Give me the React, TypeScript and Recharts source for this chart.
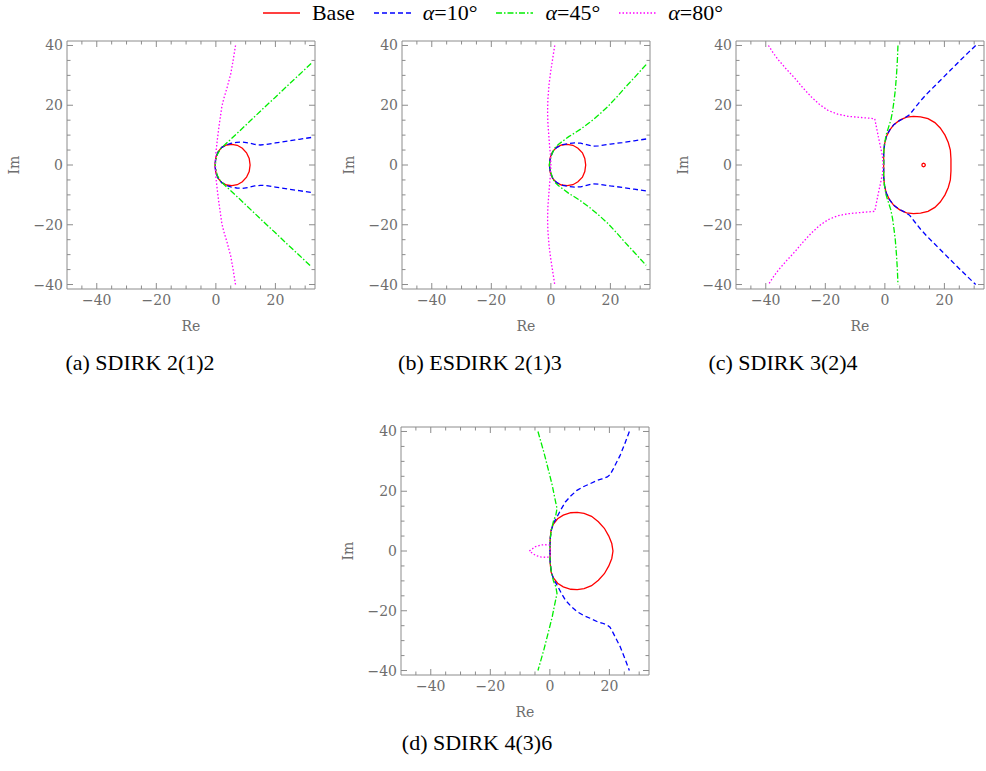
import React from "react";
import { LineChart, Line, XAxis, YAxis } from "recharts";

type Pt = [number, number];

// legend entries
const seriesNames = ["Base", "α=10°", "α=45°", "α=80°"];
const seriesColors = ["#ff0000", "#0000ff", "#00ee00", "#ff00ff"];
const seriesDash = ["", "5 3", "6 2 1.5 2", "1.5 2"];

// axis ticks
const xTicks = [-45, -40, -35, -30, -25, -20, -15, -10, -5, 0, 5, 10, 15, 20, 25, 30];
const yTicks = [-40, -35, -30, -25, -20, -15, -10, -5, 0, 5, 10, 15, 20, 25, 30, 35, 40];
const xLabels = [-40, -20, 0, 20];
const yLabels = [-40, -20, 0, 20, 40];

const captions = ["(a) SDIRK 2(1)2", "(b) ESDIRK 2(1)3", "(c) SDIRK 3(2)4", "(d) SDIRK 4(3)6"];

// (a) SDIRK 2(1)2
const baseA: Pt[] = [[-0.3,0],[0,2.5],[0.8,4.5],[2,5.9],[3.6,6.7],[5.4,6.9],[7.2,6.6],[8.9,5.6],[10.3,4.1],[11.2,2.2],[11.5,0],[11.2,-2.2],[10.3,-4.1],[8.9,-5.6],[7.2,-6.6],[5.4,-6.9],[3.6,-6.7],[2,-5.9],[0.8,-4.5],[0,-2.5],[-0.3,0]];
const blueA: Pt[] = [[32,9.2],[28,8.6],[24,8],[20,7.4],[17,6.9],[15,6.7],[13,6.9],[11,7.4],[9,7.7],[7,7.6],[5,7.2],[3.5,6.7],[2,5.9],[0.8,4.5],[0,2.5],[-0.3,0],[0,-2.5],[0.8,-4.5],[2,-5.9],[3.5,-6.8],[5,-7.3],[7,-7.7],[9,-7.8],[11,-7.5],[13,-7],[15,-6.8],[17,-6.9],[20,-7.4],[24,-8],[28,-8.6],[32,-9.2]];
const greenA: Pt[] = [[32,34],[28,30.2],[24,26.5],[20,22.7],[16,19],[12,15.2],[8,11.4],[5,8.6],[3,6.8],[1.5,5.3],[0.5,3.5],[0,1.5],[-0.2,0],[0,-1.5],[0.5,-3.5],[1.5,-5.3],[3,-6.8],[5,-8.6],[8,-11.4],[12,-15.2],[16,-19],[20,-22.7],[24,-26.5],[28,-30.2],[32,-34]];
const magentaA: Pt[] = [[6.6,40],[5.8,35],[5,30.5],[3.8,26],[2.6,22],[2,19.5],[1.5,16],[1,12.5],[0.5,8.5],[0,4],[-0.2,0],[0,-4],[0.5,-8.5],[1,-12.5],[1.5,-16],[2,-19.5],[2.6,-22],[3.8,-26],[5,-30.5],[5.8,-35],[6.6,-40]];

// (b) ESDIRK 2(1)3
const baseB: Pt[] = [[-0.5,0],[-0.2,2.5],[0.6,4.5],[1.9,5.9],[3.6,6.7],[5.5,6.9],[7.4,6.6],[9.1,5.6],[10.6,4.1],[11.4,2.2],[11.7,0],[11.4,-2.2],[10.6,-4.1],[9.1,-5.6],[7.4,-6.6],[5.5,-6.9],[3.6,-6.7],[1.9,-5.9],[0.6,-4.5],[-0.2,-2.5],[-0.5,0]];
const blueB: Pt[] = [[32,8.7],[28,8.1],[24,7.5],[20,7],[16,6.4],[14,6.3],[12,6.8],[10,7.3],[8,7.4],[6,7.2],[4,6.8],[2,5.9],[0.6,4.3],[-0.2,2.3],[-0.5,0],[-0.2,-2.3],[0.6,-4.3],[2,-5.9],[4,-6.8],[6,-7.2],[8,-7.4],[10,-7.3],[12,-6.8],[14,-6.3],[16,-6.4],[20,-7],[24,-7.5],[28,-8.1],[32,-8.7]];
const greenB: Pt[] = [[32,33.6],[28,29.2],[25,26],[22,22.6],[19,19.4],[16,16.7],[13,14.2],[10,12],[8,10.7],[6,9.5],[4,8],[2.5,6.9],[1.2,5.6],[0.3,3.5],[-0.3,1.5],[-0.5,0],[-0.3,-1.5],[0.3,-3.5],[1.2,-5.6],[2.5,-6.9],[4,-8],[6,-9.5],[8,-10.7],[10,-12],[13,-14.2],[16,-16.7],[19,-19.4],[22,-22.6],[25,-26],[28,-29.2],[32,-33.6]];
const magentaB: Pt[] = [[1.3,40],[0.6,35.5],[-0.1,31],[-0.6,27],[-1,22],[-1.1,18],[-1,14],[-0.7,10],[-0.4,6],[-0.1,3],[0,0],[-0.1,-3],[-0.4,-6],[-0.7,-10],[-1,-14],[-1.1,-18],[-1,-22],[-0.6,-27],[-0.1,-31],[0.6,-35.5],[1.3,-40]];

// (c) SDIRK 3(2)4
const baseC: Pt[] = [[-0.4,0],[-0.4,4],[-0.1,7],[0.5,9.5],[1.5,11.5],[3,13.5],[5,15],[7.3,16],[9.6,16.3],[12,16.1],[14.5,15.5],[16.8,14.2],[18.6,12.4],[20.2,10],[21.3,7.5],[22,5],[22.2,2],[22.2,0],[22.2,-2],[22,-5],[21.3,-7.5],[20.2,-10],[18.6,-12.4],[16.8,-14.2],[14.5,-15.5],[12,-16.1],[9.6,-16.3],[7.3,-16],[5,-15],[3,-13.5],[1.5,-11.5],[0.5,-9.5],[-0.1,-7],[-0.4,-4],[-0.4,0]];
const baseCLoop: Pt[] = [[12.4,0],[12.6,0.45],[13,0.6],[13.4,0.45],[13.6,0],[13.4,-0.45],[13,-0.6],[12.6,-0.45],[12.4,0]];
const blueC: Pt[] = [[30.5,40],[28,37.6],[25,34.7],[22,31.7],[19.8,29.5],[17,26.7],[14.2,23.9],[12,21.5],[10,19],[8.3,16.8],[6.5,15.7],[4.5,14.6],[3,13.5],[1.5,11.5],[0.5,9.5],[-0.1,7],[-0.4,4],[-0.4,0],[-0.4,-4],[-0.1,-7],[0.5,-9.5],[1.5,-11.5],[3,-13.5],[4.5,-14.6],[6.5,-15.7],[8.3,-16.8],[10,-19],[12,-21.5],[14.2,-23.9],[17,-26.7],[19.8,-29.5],[22,-31.7],[25,-34.7],[28,-37.6],[30.5,-40]];
const greenC: Pt[] = [[4.4,40],[4.2,35],[3.9,30],[3.5,25],[3.1,21.7],[2.6,18],[2,15],[1.2,12.5],[0.4,10],[-0.1,7],[-0.4,4],[-0.4,0],[-0.4,-4],[-0.1,-7],[0.4,-10],[1.2,-12.5],[2,-15],[2.6,-18],[3.1,-21.7],[3.5,-25],[3.9,-30],[4.2,-35],[4.4,-40]];
const magentaC: Pt[] = [[-39.1,40],[-37.5,37.5],[-35.8,35.2],[-33,32],[-30.2,29],[-27.5,25.8],[-24.7,22.8],[-22,20.3],[-19.1,18.3],[-15.8,17],[-12.4,16.3],[-8,15.9],[-3.4,15.5],[-2.2,9.5],[-0.8,3],[-0.6,0],[-0.8,-3],[-2.2,-9.5],[-3.4,-15.5],[-8,-15.9],[-12.4,-16.3],[-15.8,-17],[-19.1,-18.3],[-22,-20.3],[-24.7,-22.8],[-27.5,-25.8],[-30.2,-29],[-33,-32],[-35.8,-35.2],[-37.5,-37.5],[-39.1,-40]];

// (d) SDIRK 4(3)6
const baseD: Pt[] = [[0.1,0],[0.1,4],[0.4,7],[1.2,9],[2.6,10.8],[4.5,12],[7,12.8],[9.2,12.9],[11.5,12.6],[14,11.6],[16.3,9.8],[18.3,7.6],[19.8,5],[20.8,2.5],[21.2,0],[20.8,-2.5],[19.8,-5],[18.3,-7.6],[16.3,-9.8],[14,-11.6],[11.5,-12.6],[9.2,-12.9],[7,-12.8],[4.5,-12],[2.6,-10.8],[1.2,-9],[0.4,-7],[0.1,-4],[0.1,0]];
const blueD: Pt[] = [[26.7,40],[25.2,36],[23.6,32],[21.3,27.5],[20.2,25.5],[19.3,24.8],[17.5,24.1],[15.8,23.6],[13.5,22.5],[11.2,21.5],[9.1,20.3],[7,18.4],[5.2,16.4],[3.8,14],[2.4,11.4],[1.2,9.3],[0.5,7],[0.1,4],[0,0],[0.1,-4],[0.5,-7],[1.2,-9.3],[2.4,-11.4],[3.8,-14],[5.2,-16.4],[7,-18.4],[9.1,-20.3],[11.2,-21.5],[13.5,-22.5],[15.8,-23.6],[17.5,-24.1],[19.3,-24.8],[20.2,-25.5],[21.3,-27.5],[23.6,-32],[25.2,-36],[26.7,-40]];
const greenD: Pt[] = [[-4,40],[-3,36.5],[-2,33],[-1.1,29.5],[-0.3,26.4],[0.8,22],[1.6,18],[2.4,14.2],[2,12],[1.2,10],[0.5,7],[0.1,4],[0,0],[0.1,-4],[0.5,-7],[1.2,-10],[2,-12],[2.4,-14.2],[1.6,-18],[0.8,-22],[-0.3,-26.4],[-1.1,-29.5],[-2,-33],[-3,-36.5],[-4,-40]];
const magentaD: Pt[] = [[0.1,2],[-1.5,2.1],[-3,2],[-4.8,1.5],[-6.9,0],[-4.8,-1.5],[-3,-2],[-1.5,-2.1],[0.1,-2],[0.1,2]];

const FRAME = "#8c8c8c";
const TEXT = "#6e6e6e";
const TICK_FONT = "'DejaVu Serif', serif";
const SERIF = "'Liberation Serif', serif";
const W = 317;
const H = 335;

const toXY = (pts: Pt[]) => pts.map(([x, y]) => ({ x, y }));
const fmt = (v: number) => (v < 0 ? `\u2212${-v}` : `${v}`);

const makeTick = (side: string) => (props: any) => {
  const { x, y, payload } = props;
  const v = payload.value;
  const horiz = side === "bottom" || side === "top";
  const major = horiz ? xLabels.includes(v) : yLabels.includes(v);
  const len = major ? 6 : 3.5;
  let x2 = x;
  let y2 = y;
  if (side === "bottom") y2 = y - len;
  if (side === "top") y2 = y + len;
  if (side === "left") x2 = x + len;
  if (side === "right") x2 = x - len;
  return (
    <g>
      <line x1={x} y1={y} x2={x2} y2={y2} stroke={FRAME} strokeWidth={1} />
      {major && side === "bottom" && (
        <text x={x} y={y + 16} textAnchor="middle" fill={TEXT} fontSize={14} fontFamily={TICK_FONT}>
          {fmt(v)}
        </text>
      )}
      {major && side === "left" && (
        <text x={x - 4} y={y + 5} textAnchor="end" fill={TEXT} fontSize={14} fontFamily={TICK_FONT}>
          {fmt(v)}
        </text>
      )}
    </g>
  );
};

const tickBottom = makeTick("bottom");
const tickTop = makeTick("top");
const tickLeft = makeTick("left");
const tickRight = makeTick("right");

type PanelProps = { left: number; top: number; curves: Pt[][]; extra?: Pt[] };

function Panel({ left, top, curves, extra }: PanelProps) {
  const X_DOMAIN = [-50, 33.3];
  const Y_DOMAIN = [-41.5, 41.5];
  return (
    <div style={{ position: "absolute", left, top }}>
      <LineChart width={W} height={H} margin={{ top: 40, right: 1, bottom: 0, left: 0 }}>
        <XAxis
          type="number"
          dataKey="x"
          domain={X_DOMAIN}
          ticks={xTicks}
          interval={0}
          allowDataOverflow
          height={46}
          tickSize={0}
          tickMargin={0}
          tick={tickBottom}
          stroke={FRAME}
          label={{ value: "Re", position: "insideBottom", offset: 4, fill: TEXT, fontSize: 14, fontFamily: TICK_FONT }}
        />
        <XAxis
          xAxisId="t"
          orientation="top"
          type="number"
          dataKey="x"
          domain={X_DOMAIN}
          ticks={xTicks}
          interval={0}
          allowDataOverflow
          height={1}
          tickSize={0}
          tickMargin={0}
          tick={tickTop}
          stroke={FRAME}
        />
        <YAxis
          type="number"
          domain={Y_DOMAIN}
          ticks={yTicks}
          interval={0}
          allowDataOverflow
          width={67}
          tickSize={0}
          tickMargin={0}
          tick={tickLeft}
          stroke={FRAME}
          label={{
            value: "Im",
            angle: -90,
            position: "insideLeft",
            offset: 14,
            fill: TEXT,
            fontSize: 14,
            fontFamily: TICK_FONT,
            style: { textAnchor: "middle" },
          }}
        />
        <YAxis
          yAxisId="r"
          orientation="right"
          type="number"
          domain={Y_DOMAIN}
          ticks={yTicks}
          interval={0}
          allowDataOverflow
          width={1}
          tickSize={0}
          tickMargin={0}
          tick={tickRight}
          stroke={FRAME}
        />
        {curves.map((pts, i) => (
          <Line
            key={i}
            data={toXY(pts)}
            dataKey="y"
            type="linear"
            stroke={seriesColors[i]}
            strokeWidth={1.3}
            strokeDasharray={seriesDash[i] || undefined}
            dot={false}
            activeDot={false}
            isAnimationActive={false}
          />
        ))}
        {extra && (
          <Line
            data={toXY(extra)}
            dataKey="y"
            type="linear"
            stroke={seriesColors[0]}
            strokeWidth={1.3}
            dot={false}
            activeDot={false}
            isAnimationActive={false}
          />
        )}
      </LineChart>
    </div>
  );
}

function LegendRow() {
  return (
    <div
      style={{
        position: "absolute",
        left: 0,
        top: 0,
        width: 986,
        height: 26,
        display: "flex",
        justifyContent: "center",
        alignItems: "center",
        fontFamily: SERIF,
        fontSize: 22,
        color: "#000",
      }}
    >
      {seriesNames.map((name, i) => (
        <div key={name} style={{ display: "flex", alignItems: "center", marginLeft: i === 0 ? 0 : 19 }}>
          <svg width={37} height={10}>
            <line x1={0} y1={5} x2={37} y2={5} stroke={seriesColors[i]} strokeWidth={1.3} strokeDasharray={seriesDash[i] || undefined} />
          </svg>
          <span style={{ marginLeft: 12 }}>
            {name.startsWith("α") ? (
              <>
                <i>α</i>
                {name.slice(1)}
              </>
            ) : (
              name
            )}
          </span>
        </div>
      ))}
    </div>
  );
}

const captionStyle = (cx: number, cy: number): React.CSSProperties => ({
  position: "absolute",
  left: cx - 120,
  top: cy - 14,
  width: 240,
  textAlign: "center",
  fontFamily: SERIF,
  fontSize: 22,
  lineHeight: "28px",
  color: "#000",
});

export default function App() {
  return (
    <div style={{ position: "absolute", left: 0, top: 0, width: 986, height: 771, overflow: "hidden", background: "#fff" }}>
      <LegendRow />
      <Panel left={0} top={0} curves={[baseA, blueA, greenA, magentaA]} />
      <Panel left={335} top={0} curves={[baseB, blueB, greenB, magentaB]} />
      <Panel left={669} top={0} curves={[baseC, blueC, greenC, magentaC]} extra={baseCLoop} />
      <Panel left={334} top={386} curves={[baseD, blueD, greenD, magentaD]} />
      <div style={captionStyle(140, 363)}>{captions[0]}</div>
      <div style={captionStyle(480, 363)}>{captions[1]}</div>
      <div style={captionStyle(783, 363)}>{captions[2]}</div>
      <div style={captionStyle(477, 743)}>{captions[3]}</div>
    </div>
  );
}
